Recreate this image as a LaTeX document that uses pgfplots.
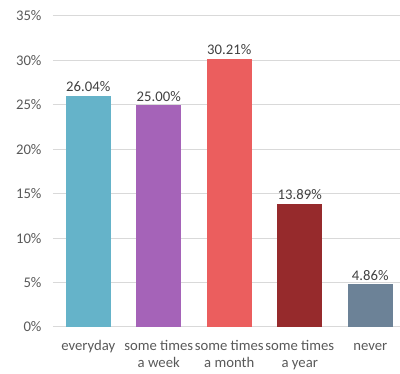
\documentclass[border=0pt]{standalone}
\usepackage{pgfplots}
\pgfplotsset{compat=1.18}
\usepackage{fontspec}
\setmainfont{Carlito}
\definecolor{c1}{HTML}{65B3C9}
\definecolor{c2}{HTML}{A563B8}
\definecolor{c3}{HTML}{EB5E5E}
\definecolor{c4}{HTML}{962A2C}
\definecolor{c5}{HTML}{6C8297}
\definecolor{gridc}{HTML}{D9D9D9}
\definecolor{txt}{HTML}{595959}
\definecolor{lbl}{HTML}{404040}
\begin{document}
\begin{tikzpicture}
\begin{axis}[
  at={(0pt,0pt)}, anchor=south west,
  scale only axis, width=347pt, height=311pt,
  xmin=-0.5, xmax=4.422, ymin=0, ymax=35,
  ytick={0,5,...,35},
  yticklabel={\pgfmathprintnumber{\tick}\%},
  /pgf/number format/assume math mode=true,
  xtick={0,1,2,3,4},
  xticklabels={{everyday\\\mbox{}},{some times\\a week},{some times\\a month},{some times\\a year},{never\\\mbox{}}},
  xticklabel style={align=center, anchor=base, text=txt, font=\fontsize{14.7}{17}\selectfont, yshift=-41pt},
  yticklabel style={text=txt, font=\fontsize{14.7}{17}\selectfont, xshift=-8pt},
  major tick length=0pt,
  ymajorgrids, grid style={gridc, line width=1pt},
  axis line style={draw=none},
  ybar, bar width=45pt, bar shift=0pt,
  nodes near coords,
  point meta=explicit symbolic,
  every node near coord/.append style={text=lbl, font=\fontsize{14.7}{17}\selectfont},
  clip=false,
]
\addplot[fill=c1, draw=none] coordinates {(0,26.04) [26.04\%]};
\addplot[fill=c2, draw=none] coordinates {(1,25.00) [25.00\%]};
\addplot[fill=c3, draw=none] coordinates {(2,30.21) [30.21\%]};
\addplot[fill=c4, draw=none] coordinates {(3,13.89) [13.89\%]};
\addplot[fill=c5, draw=none] coordinates {(4,4.86) [4.86\%]};
\end{axis}
\pgfresetboundingbox
\path[use as bounding box] (-53pt,-47pt) rectangle (347pt,327pt);
\end{tikzpicture}
\end{document}
